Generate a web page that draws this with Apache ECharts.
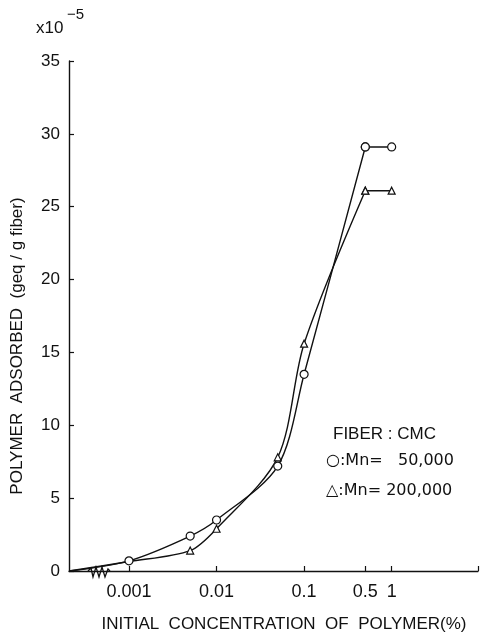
<!DOCTYPE html>
<html>
<head>
<meta charset="utf-8">
<script src="https://cdn.jsdelivr.net/npm/echarts@6/dist/echarts.min.js"></script>
<style>
html,body{margin:0;padding:0;background:#fff;}
#chart{width:489px;height:635px;}
</style>
</head>
<body>
<div id="chart"></div>
<script>
// ---- data (concentration in %, 0 = broken-axis origin) ----
const conc = [0, 0.001, 0.005, 0.01, 0.05, 0.1, 0.5, 1];
const mn50k = [0, 0.7, 2.4, 3.5, 7.2, 13.5, 29.1, 29.1];
const mn200k = [0, 0.65, 1.4, 2.9, 7.8, 15.6, 26.1, 26.1];
const xTickValues = [0.001, 0.01, 0.1, 0.5, 1];
const xTickLabels = ['0.001', '0.01', '0.1', '0.5', '1'];
const yTickValues = [0, 5, 10, 15, 20, 25, 30, 35];

// ---- layout ----
const X_MIN = -3.685, X_MAX = 0.986;
const FONT = '"Liberation Sans", Arial, Helvetica, sans-serif';
const WIDE = '"DejaVu Sans", sans-serif';
const INK = '#111';

function lx(c) { return c === 0 ? X_MIN : Math.log10(c); }

function buildSeries(vals, symbol, size, name, hideIdx) {
  const curve = [], flat = [];
  const split = conc.indexOf(0.5);
  conc.forEach((c, i) => {
    const pt = { value: [lx(c), vals[i]] };
    if (c === 0 || hideIdx.includes(i)) pt.symbol = 'none';
    if (i <= split) curve.push(pt);
    if (i >= split) flat.push({ value: [lx(c), vals[i]] });
  });
  const common = {
    type: 'line', symbol: symbol, symbolSize: size, showSymbol: true,
    lineStyle: { color: INK, width: 1.4 },
    itemStyle: { color: '#fff', borderColor: INK, borderWidth: 1.2 },
    z: 3, animation: false, silent: true
  };
  return [
    Object.assign({}, common, { name: name, data: curve, smooth: 0.3 }),
    Object.assign({}, common, { name: name + '-flat', data: flat, smooth: false })
  ];
}

const chart = echarts.init(document.getElementById('chart'), null, { renderer: 'canvas' });
const option = {
  backgroundColor: '#fff',
  animation: false,
  grid: { left: 69, right: 11, top: 61, bottom: 64, containLabel: false },
  xAxis: {
    type: 'value', min: X_MIN, max: X_MAX,
    splitLine: { show: false },
    axisLine: { onZero: false, lineStyle: { color: INK, width: 1.4 } },
    axisTick: { inside: true, length: 5, lineStyle: { color: INK, width: 1.2 },
                customValues: xTickValues.map(lx).concat([X_MAX]) },
    axisLabel: {
      customValues: xTickValues.map(lx),
      formatter: function (v) {
        let best = 0, d = 1e9;
        xTickValues.forEach((t, i) => { const dd = Math.abs(lx(t) - v); if (dd < d) { d = dd; best = i; } });
        return xTickLabels[best];
      },
      margin: 12, color: INK, fontSize: 18, fontFamily: FONT
    }
  },
  yAxis: {
    type: 'value', min: 0, max: 35, interval: 5,
    splitLine: { show: false },
    axisLine: { show: true, onZero: false, lineStyle: { color: INK, width: 1.4 } },
    axisTick: { inside: true, length: 5, lineStyle: { color: INK, width: 1.2 } },
    axisLabel: { margin: 9, color: INK, fontSize: 17, fontFamily: FONT }
  },
  series: [].concat(
    buildSeries(mn200k, 'triangle', 7, 'Mn=200,000', [1]),
    buildSeries(mn50k, 'circle', 8, 'Mn=50,000', [])
  ),
  graphic: [
    { type: 'text', left: 36, top: 20, style: { text: 'x10', fill: INK, font: '17px ' + FONT } },
    { type: 'text', left: 67, top: 7, style: { text: '\u22125', fill: INK, font: '15px ' + FONT } },
    { type: 'text', x: 17, y: 346, rotation: Math.PI / 2,
      style: { text: 'POLYMER  ADSORBED  (geq / g fiber)', fill: INK, font: '17px ' + FONT,
               align: 'center', verticalAlign: 'middle' } },
    { type: 'text', x: 284, y: 624,
      style: { text: 'INITIAL  CONCENTRATION  OF  POLYMER(%)', fill: INK, font: '17px ' + FONT,
               align: 'center', verticalAlign: 'middle' } },
    { type: 'text', x: 333, y: 434,
      style: { text: 'FIBER : CMC', fill: INK, font: '17px ' + FONT, align: 'left', verticalAlign: 'middle' } },
    { type: 'text', x: 326, y: 461,
      style: { text: '\u25CB:Mn=   50,000', fill: INK, font: '16px ' + WIDE, align: 'left', verticalAlign: 'middle' } },
    { type: 'text', x: 326, y: 491,
      style: { text: '\u25B3:Mn= 200,000', fill: INK, font: '16px ' + WIDE, align: 'left', verticalAlign: 'middle' } }
  ]
};
chart.setOption(option);

// axis-break zigzag drawn just right of the origin, positioned from the grid
const origin = chart.convertToPixel({ gridIndex: 0 }, [X_MIN, 0]);
const bx = origin[0] + 19, by = origin[1];
const zz = [[bx, by], [bx + 3, by - 3], [bx + 5, by + 6], [bx + 8, by - 4], [bx + 11, by + 6],
            [bx + 14, by - 4], [bx + 17, by + 6], [bx + 20, by - 2], [bx + 22, by]];
chart.setOption({
  graphic: option.graphic.concat([
    { type: 'polyline', shape: { points: zz }, style: { stroke: INK, lineWidth: 1.3, fill: null }, z: 10 }
  ])
});
</script>
</body>
</html>
